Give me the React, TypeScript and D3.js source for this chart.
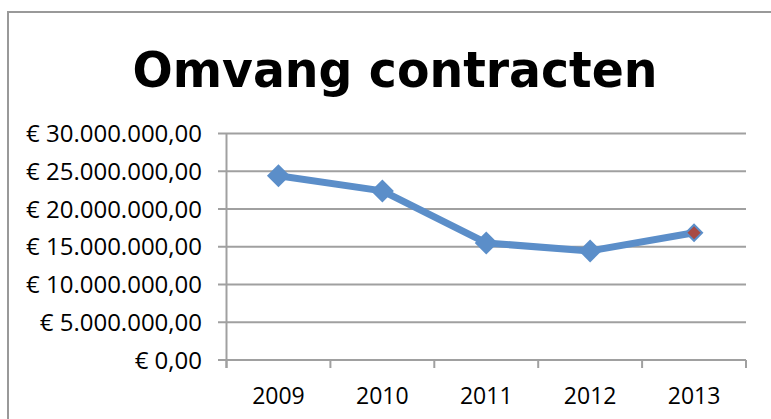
import React from "react";
import * as d3 from "d3";

const years = ["2009", "2010", "2011", "2012", "2013"];
const values = [24400000, 22400000, 15500000, 14450000, 16850000];
const yTicks = [0, 5000000, 10000000, 15000000, 20000000, 25000000, 30000000];
const title = "Omvang contracten";

const W = 771;
const H = 419;
const left = 226.5;
const right = 746;
const top = 133.5;
const bottom = 360;

const fmt = (v: number) => {
  const whole = Math.round(v)
    .toString()
    .replace(/\B(?=(\d{3})+(?!\d))/g, ".");
  return "€ " + whole + ",00";
};

export default function App() {
  const x = d3.scaleBand<string>().domain(years).range([left, right]);
  const y = d3.scaleLinear().domain([0, 30000000]).range([bottom, top]);
  const cx = (d: string) => (x(d) as number) + x.bandwidth() / 2;
  const pts = years.map((d, i) => [cx(d), y(values[i])] as [number, number]);
  const line = d3.line();
  const diamond = (px: number, py: number, r: number) =>
    `M${px},${py - r}L${px + r},${py}L${px},${py + r}L${px - r},${py}Z`;
  const grid = "#a0a0a0";
  const blue = "#5b8ec9";
  const bounds = [...years.map((d) => x(d) as number), right];

  return (
    <svg
      width={W}
      height={H}
      style={{ position: "absolute", left: 0, top: 0, background: "#fff" }}
    >
      <rect x={0} y={0} width={W} height={H} fill="#fff" />
      <path d={`M8,${H + 5}V12H${W + 5}`} fill="none" stroke="#999" strokeWidth={2} />
      <text
        x={395}
        y={87}
        textAnchor="middle"
        fontFamily="'DejaVu Sans', sans-serif"
        fontWeight="bold"
        fontSize={49}
        textLength={525}
        lengthAdjust="spacingAndGlyphs"
        fill="#000"
      >
        {title}
      </text>
      {yTicks.map((t) => (
        <g key={t}>
          <line x1={218} x2={right} y1={y(t)} y2={y(t)} stroke={grid} strokeWidth={2} />
          <text
            x={202}
            y={y(t)}
            dy="0.36em"
            textAnchor="end"
            fontFamily="'Open Sans', sans-serif"
            fontSize={24}
            fill="#000"
          >
            {fmt(t)}
          </text>
        </g>
      ))}
      <line x1={left} x2={left} y1={top} y2={bottom + 8} stroke={grid} strokeWidth={2} />
      {bounds.map((b, i) => (
        <line key={i} x1={b} x2={b} y1={bottom} y2={bottom + 8} stroke={grid} strokeWidth={2} />
      ))}
      {years.map((d) => (
        <text
          key={d}
          x={cx(d)}
          y={404}
          textAnchor="middle"
          fontFamily="'Open Sans', sans-serif"
          fontSize={23}
          fill="#000"
        >
          {d}
        </text>
      ))}
      <path
        d={line(pts) as string}
        fill="none"
        stroke={blue}
        strokeWidth={7}
        strokeLinejoin="round"
      />
      {pts.map(([px, py], i) =>
        i === pts.length - 1 ? (
          <path key={i} d={diamond(px, py, 8)} fill="#a84a44" stroke={blue} strokeWidth={2} />
        ) : (
          <path key={i} d={diamond(px, py, 11.5)} fill={blue} />
        )
      )}
    </svg>
  );
}
